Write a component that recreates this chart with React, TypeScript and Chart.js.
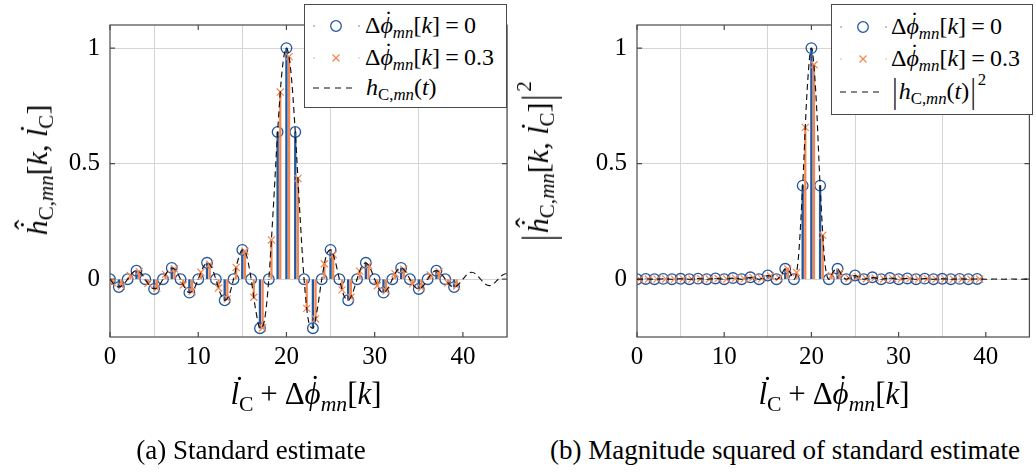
import React, { useEffect, useRef } from 'react';
import { Chart, registerables } from 'chart.js';

Chart.register(...registerables);

// Sample index k of the estimate and the phase offset of the second estimate
const SAMPLE_K = [
  0, 1, 2, 3, 4, 5, 6, 7, 8, 9, 10, 11, 12, 13, 14, 15, 16, 17, 18, 19,
  20, 21, 22, 23, 24, 25, 26, 27, 28, 29, 30, 31, 32, 33, 34, 35, 36, 37, 38, 39,
];
const PHASE_OFFSET = 0.3;

// Standard estimate, offset 0
const EST_ZERO = [
  0, -0.034, 0, 0.037, 0, -0.042, 0, 0.049, 0, -0.058,
  0, 0.071, 0, -0.091, 0, 0.127, 0, -0.212, 0, 0.637,
  1, 0.637, 0, -0.212, 0, 0.127, 0, -0.091, 0, 0.071,
  0, -0.058, 0, 0.049, 0, -0.042, 0, 0.037, 0, -0.034,
];
// Standard estimate, offset 0.3
const EST_SHIFTED = [
  -0.015, -0.03, 0.016, 0.034, -0.018, -0.039, 0.021, 0.045, -0.025, -0.053,
  0.03, 0.065, -0.038, -0.085, 0.051, 0.121, -0.078, -0.21, 0.17, 0.81,
  0.963, 0.436, -0.126, -0.172, 0.067, 0.107, -0.046, -0.078, 0.035, 0.061,
  -0.028, -0.05, 0.024, 0.043, -0.02, -0.037, 0.018, 0.033, -0.016, -0.029,
];
// Magnitude squared, offset 0
const MAG_ZERO = [
  0, 0.0011, 0, 0.0014, 0, 0.0018, 0, 0.0024, 0, 0.0034,
  0, 0.005, 0, 0.0083, 0, 0.0162, 0, 0.045, 0, 0.405,
  1, 0.405, 0, 0.045, 0, 0.0162, 0, 0.0083, 0, 0.005,
  0, 0.0034, 0, 0.0024, 0, 0.0018, 0, 0.0014, 0, 0.0011,
];
// Magnitude squared, offset 0.3
const MAG_SHIFTED = [
  0.0002, 0.0009, 0.0003, 0.0012, 0.0003, 0.0015, 0.0004, 0.002, 0.0006, 0.0028,
  0.0009, 0.0043, 0.0014, 0.0072, 0.0026, 0.0146, 0.0061, 0.0441, 0.0289, 0.657,
  0.928, 0.19, 0.0158, 0.0296, 0.0045, 0.0114, 0.0021, 0.006, 0.0012, 0.0037,
  0.0008, 0.0025, 0.0006, 0.0018, 0.0004, 0.0014, 0.0003, 0.0011, 0.0002, 0.0009,
];

// Continuous channel response h_C,mn(t) and its magnitude squared
const CURVE_T = [
  0, 0.5, 1, 1.5, 2, 2.5, 3, 3.5, 4, 4.5,
  5, 5.5, 6, 6.5, 7, 7.5, 8, 8.5, 9, 9.5,
  10, 10.5, 11, 11.5, 12, 12.5, 13, 13.5, 14, 14.5,
  15, 15.5, 16, 16.5, 17, 17.5, 18, 18.5, 19, 19.5,
  20, 20.5, 21, 21.5, 22, 22.5, 23, 23.5, 24, 24.5,
  25, 25.5, 26, 26.5, 27, 27.5, 28, 28.5, 29, 29.5,
  30, 30.5, 31, 31.5, 32, 32.5, 33, 33.5, 34, 34.5,
  35, 35.5, 36, 36.5, 37, 37.5, 38, 38.5, 39, 39.5,
  40, 40.5, 41, 41.5, 42, 42.5, 43, 43.5, 44, 44.5,
  45,
];
const CURVE_H = [
  0, -0.023, -0.034, -0.024, 0, 0.026, 0.037, 0.027, 0, -0.029,
  -0.042, -0.031, 0, 0.033, 0.049, 0.036, 0, -0.039, -0.058, -0.043,
  0, 0.047, 0.071, 0.053, 0, -0.06, -0.091, -0.069, 0, 0.082,
  0.127, 0.1, 0, -0.129, -0.212, -0.18, 0, 0.3, 0.637, 0.9,
  1, 0.9, 0.637, 0.3, 0, -0.18, -0.212, -0.129, 0, 0.1,
  0.127, 0.082, 0, -0.069, -0.091, -0.06, 0, 0.053, 0.071, 0.047,
  0, -0.043, -0.058, -0.039, 0, 0.036, 0.049, 0.033, 0, -0.031,
  -0.042, -0.029, 0, 0.027, 0.037, 0.026, 0, -0.024, -0.034, -0.023,
  0, 0.022, 0.03, 0.021, 0, -0.02, -0.028, -0.019, 0, 0.018,
  0.026,
];
const CURVE_H_SQ = [
  0, 0.0005, 0.0011, 0.0006, 0, 0.0007, 0.0014, 0.0007, 0, 0.0008,
  0.0018, 0.001, 0, 0.0011, 0.0024, 0.0013, 0, 0.0015, 0.0034, 0.0018,
  0, 0.0022, 0.005, 0.0028, 0, 0.0036, 0.0083, 0.0048, 0, 0.0067,
  0.0162, 0.01, 0, 0.0165, 0.045, 0.0324, 0, 0.0901, 0.405, 0.811,
  1, 0.811, 0.405, 0.0901, 0, 0.0324, 0.045, 0.0165, 0, 0.01,
  0.0162, 0.0067, 0, 0.0048, 0.0083, 0.0036, 0, 0.0028, 0.005, 0.0022,
  0, 0.0018, 0.0034, 0.0015, 0, 0.0013, 0.0024, 0.0011, 0, 0.001,
  0.0018, 0.0008, 0, 0.0007, 0.0014, 0.0007, 0, 0.0006, 0.0011, 0.0005,
  0, 0.0005, 0.0009, 0.0004, 0, 0.0004, 0.0008, 0.0004, 0, 0.0003,
  0.0007,
];

const X_TICKS = [0, 10, 20, 30, 40];
const Y_TICKS = [0, 0.5, 1];
const X_MIN = 0;
const X_MAX = 45;
const Y_MIN = -0.25;
const Y_MAX = 1.1;

const BLUE = '#23579d';
const ORANGE = '#f5864f';
const GRID = '#d4d4d4';
const FRAME = '#4a4a4a';
const SERIF = '"Liberation Serif", "DejaVu Serif", serif';
const CANVAS_SERIF = 'Liberation Serif';

Chart.defaults.font.family = CANVAS_SERIF;

// Axis box with short inward tick marks, drawn under the data
const framePlugin = {
  id: 'frame',
  beforeDatasetsDraw(chart: any) {
    const { ctx, chartArea: a, scales } = chart;
    ctx.save();
    ctx.strokeStyle = FRAME;
    ctx.lineWidth = 1.2;
    ctx.strokeRect(a.left, a.top, a.right - a.left, a.bottom - a.top);
    ctx.beginPath();
    for (const v of X_TICKS) {
      const px = scales.x.getPixelForValue(v);
      ctx.moveTo(px, a.bottom);
      ctx.lineTo(px, a.bottom - 5);
      ctx.moveTo(px, a.top);
      ctx.lineTo(px, a.top + 5);
    }
    for (const v of Y_TICKS) {
      const py = scales.y.getPixelForValue(v);
      ctx.moveTo(a.left, py);
      ctx.lineTo(a.left + 5, py);
      ctx.moveTo(a.right, py);
      ctx.lineTo(a.right - 5, py);
    }
    ctx.stroke();
    ctx.restore();
  },
};

type PanelProps = {
  left: number;
  zero: number[];
  shifted: number[];
  curve: number[];
  axisWidth: number;
  padRight: number;
};

function StemPanel({ left, zero, shifted, curve, axisWidth, padRight }: PanelProps) {
  const ref = useRef<HTMLCanvasElement | null>(null);

  useEffect(() => {
    const canvas = ref.current;
    if (!canvas) return;
    const zeroPts = SAMPLE_K.map((k, i) => ({ x: k, y: zero[i] }));
    const shiftPts = SAMPLE_K.map((k, i) => ({ x: k + PHASE_OFFSET, y: shifted[i] }));
    const curvePts = CURVE_T.map((t, i) => ({ x: t, y: curve[i] }));
    const tickFont = { family: CANVAS_SERIF, size: 25 };
    const fmt = (v: number | string) => String(Number(v));

    const chart = new Chart(canvas, {
      type: 'scatter',
      data: {
        datasets: [
          {
            type: 'line',
            data: curvePts,
            borderColor: '#111111',
            borderWidth: 1.15,
            borderDash: [6, 4],
            pointRadius: 0,
            fill: false,
            cubicInterpolationMode: 'monotone',
            order: 0,
          },
          {
            type: 'scatter',
            data: shiftPts,
            pointStyle: 'crossRot',
            pointRadius: 5,
            borderColor: ORANGE,
            borderWidth: 1.2,
            backgroundColor: ORANGE,
            order: 1,
          },
          {
            type: 'bar',
            data: shiftPts,
            backgroundColor: ORANGE,
            barThickness: 1.6,
            grouped: false,
            order: 2,
          },
          {
            type: 'scatter',
            data: zeroPts,
            pointStyle: 'circle',
            pointRadius: 5.3,
            borderColor: BLUE,
            borderWidth: 1.3,
            backgroundColor: 'rgba(0,0,0,0)',
            order: 3,
          },
          {
            type: 'bar',
            data: zeroPts,
            backgroundColor: BLUE,
            barThickness: 1.7,
            grouped: false,
            order: 4,
          },
        ],
      } as any,
      options: {
        responsive: false,
        animation: false,
        devicePixelRatio: 1,
        events: [],
        layout: { padding: { top: 4, right: padRight, left: 0, bottom: 0 } },
        plugins: { legend: { display: false }, tooltip: { enabled: false } },
        scales: {
          x: {
            type: 'linear',
            min: X_MIN,
            max: X_MAX,
            offset: false,
            afterBuildTicks: (s: any) => {
              s.ticks = X_TICKS.map((value) => ({ value }));
            },
            afterFit: (s: any) => {
              s.height = 43;
            },
            grid: { color: GRID, lineWidth: 1, drawTicks: false },
            border: { display: false },
            ticks: { font: tickFont, color: '#000', padding: 5, maxRotation: 0, callback: fmt },
          },
          y: {
            type: 'linear',
            min: Y_MIN,
            max: Y_MAX,
            afterBuildTicks: (s: any) => {
              s.ticks = Y_TICKS.map((value) => ({ value }));
            },
            afterFit: (s: any) => {
              s.width = axisWidth;
            },
            grid: { color: GRID, lineWidth: 1, drawTicks: false },
            border: { display: false },
            ticks: { font: tickFont, color: '#000', padding: 10, callback: fmt },
          },
        },
      } as any,
      plugins: [framePlugin],
    });
    let alive = true;
    if (document.fonts && document.fonts.ready) {
      document.fonts.ready.then(() => {
        if (alive) chart.update('none');
      });
    }
    return () => {
      alive = false;
      chart.destroy();
    };
  }, []);

  return (
    <canvas
      ref={ref}
      width={518}
      height={380}
      style={{ position: 'absolute', left, top: 0, width: 518, height: 380 }}
    />
  );
}

// ---------- math-style text pieces ----------
const It = ({ children }: { children: React.ReactNode }) => (
  <span style={{ fontStyle: 'italic' }}>{children}</span>
);
const Sub = ({ children }: { children: React.ReactNode }) => (
  <span style={{ fontSize: '0.7em', position: 'relative', top: '0.3em' }}>{children}</span>
);
const Sup = ({ children }: { children: React.ReactNode }) => (
  <span style={{ fontSize: '0.7em', position: 'relative', top: '-0.8em', marginLeft: '0.05em' }}>
    {children}
  </span>
);
function Acc({ ch, marks }: { ch: string; marks: Array<[string, number, number]> }) {
  return (
    <span style={{ position: 'relative', display: 'inline-block', fontStyle: 'italic' }}>
      {ch}
      {marks.map(([m, dy, dx], i) => (
        <span
          key={i}
          style={{
            position: 'absolute',
            left: `${dx}em`,
            right: `${-dx}em`,
            top: `${dy}em`,
            textAlign: 'center',
            fontStyle: 'normal',
          }}
        >
          {m}
        </span>
      ))}
    </span>
  );
}
const Bar = () => (
  <span style={{ display: 'inline-block', transform: 'scaleY(1.45)', margin: '0 0.06em' }}>|</span>
);
const Gap = ({ children }: { children: React.ReactNode }) => (
  <span style={{ margin: '0 0.22em' }}>{children}</span>
);

const LDot = () => <Acc ch="l" marks={[['˙', -0.2, 0.12]]} />;
const PhiDot = () => <Acc ch="ϕ" marks={[['˙', -0.24, 0.08]]} />;
const HHat = () => <Acc ch="h" marks={[['˙', -0.19, 0.1], ['ˆ', -0.4, 0.1]]} />;

const XTitle = () => (
  <>
    <LDot />
    <Sub>C</Sub>
    <Gap>+</Gap>Δ<PhiDot />
    <Sub>
      <It>mn</It>
    </Sub>
    [<It>k</It>]
  </>
);
const EstTitle = () => (
  <>
    <HHat />
    <Sub>
      C,<It>mn</It>
    </Sub>
    [<It>k</It>, <LDot />
    <Sub>C</Sub>]
  </>
);
const PhaseLabel = ({ v }: { v: string }) => (
  <>
    Δ<PhiDot />
    <Sub>
      <It>mn</It>
    </Sub>
    [<It>k</It>]<Gap>=</Gap>
    {v}
  </>
);
const CurveLabel = () => (
  <>
    <It>h</It>
    <Sub>
      C,<It>mn</It>
    </Sub>
    (<It>t</It>)
  </>
);

// Text placed by its baseline (line-height 1)
function Txt({
  x,
  baseline,
  size,
  center,
  children,
}: {
  x: number;
  baseline: number;
  size: number;
  center?: boolean;
  children: React.ReactNode;
}) {
  return (
    <div
      style={{
        position: 'absolute',
        left: x,
        top: baseline - 0.8375 * size,
        fontSize: size,
        lineHeight: 1,
        whiteSpace: 'nowrap',
        transform: center ? 'translateX(-50%)' : undefined,
        color: '#000',
      }}
    >
      {children}
    </div>
  );
}

function VTxt({ cx, cy, size, children }: { cx: number; cy: number; size: number; children: React.ReactNode }) {
  return (
    <div
      style={{
        position: 'absolute',
        left: cx,
        top: cy,
        fontSize: size,
        lineHeight: 1,
        whiteSpace: 'nowrap',
        transform: 'translate(-50%, -50%) rotate(-90deg)',
        color: '#000',
      }}
    >
      {children}
    </div>
  );
}

function LegendBox({
  x,
  y,
  w,
  h,
  rows,
  labels,
}: {
  x: number;
  y: number;
  w: number;
  h: number;
  rows: number[];
  labels: React.ReactNode[];
}) {
  const [r1, r2, r3] = rows;
  return (
    <>
      <div
        style={{
          position: 'absolute',
          left: x,
          top: y,
          width: w,
          height: h,
          boxSizing: 'border-box',
          border: `1.3px solid ${FRAME}`,
          background: '#fff',
        }}
      />
      <svg
        width={w}
        height={h}
        style={{ position: 'absolute', left: x, top: y, overflow: 'visible' }}
      >
        <circle cx={10} cy={r1} r={0.9} fill={BLUE} opacity={0.5} />
        <circle cx={55} cy={r1} r={0.9} fill={BLUE} opacity={0.5} />
        <circle cx={32} cy={r1} r={5.3} fill="none" stroke={BLUE} strokeWidth={1.3} />
        <circle cx={10} cy={r2} r={0.9} fill={ORANGE} opacity={0.5} />
        <circle cx={55} cy={r2} r={0.9} fill={ORANGE} opacity={0.5} />
        <line x1={28.5} y1={r2 - 3.5} x2={35.5} y2={r2 + 3.5} stroke={ORANGE} strokeWidth={1.2} />
        <line x1={28.5} y1={r2 + 3.5} x2={35.5} y2={r2 - 3.5} stroke={ORANGE} strokeWidth={1.2} />
        <line x1={9} y1={r3} x2={50} y2={r3} stroke="#111" strokeWidth={1.15} strokeDasharray="6 5" />
      </svg>
      {labels}
    </>
  );
}

export default function App() {
  return (
    <div
      style={{
        position: 'absolute',
        left: 0,
        top: 0,
        width: 1036,
        height: 472,
        background: '#fff',
        fontFamily: SERIF,
        overflow: 'hidden',
      }}
    >
      <StemPanel left={0} zero={EST_ZERO} shifted={EST_SHIFTED} curve={CURVE_H} axisWidth={110} padRight={11} />
      <StemPanel left={518} zero={MAG_ZERO} shifted={MAG_SHIFTED} curve={CURVE_H_SQ} axisWidth={119} padRight={3} />

      {/* (a) legend */}
      <LegendBox
        x={304}
        y={4}
        w={203}
        h={104}
        rows={[22, 54, 84]}
        labels={[
          <Txt key="a1" x={365} baseline={33} size={24}>
            <PhaseLabel v="0" />
          </Txt>,
          <Txt key="a2" x={365} baseline={65} size={24}>
            <PhaseLabel v="0.3" />
          </Txt>,
          <Txt key="a3" x={366} baseline={95} size={24}>
            <CurveLabel />
          </Txt>,
        ]}
      />
      {/* (b) legend */}
      <LegendBox
        x={831}
        y={4}
        w={202}
        h={111}
        rows={[23, 55, 88]}
        labels={[
          <Txt key="b1" x={891} baseline={34} size={24}>
            <PhaseLabel v="0" />
          </Txt>,
          <Txt key="b2" x={891} baseline={66} size={24}>
            <PhaseLabel v="0.3" />
          </Txt>,
          <Txt key="b3" x={891} baseline={99} size={24}>
            <Bar />
            <CurveLabel />
            <Bar />
            <Sup>2</Sup>
          </Txt>,
        ]}
      />

      {/* axis titles */}
      <Txt x={306} baseline={404} size={31} center>
        <XTitle />
      </Txt>
      <Txt x={834} baseline={404} size={31} center>
        <XTitle />
      </Txt>
      <VTxt cx={37} cy={170} size={30}>
        <EstTitle />
      </VTxt>
      <VTxt cx={538} cy={162} size={30}>
        <Bar />
        <EstTitle />
        <Bar />
        <Sup>2</Sup>
      </VTxt>

      {/* sub-figure captions */}
      <Txt x={251} baseline={460} size={27} center>
        (a) Standard estimate
      </Txt>
      <Txt x={785} baseline={460} size={27} center>
        (b) Magnitude squared of standard estimate
      </Txt>
    </div>
  );
}
